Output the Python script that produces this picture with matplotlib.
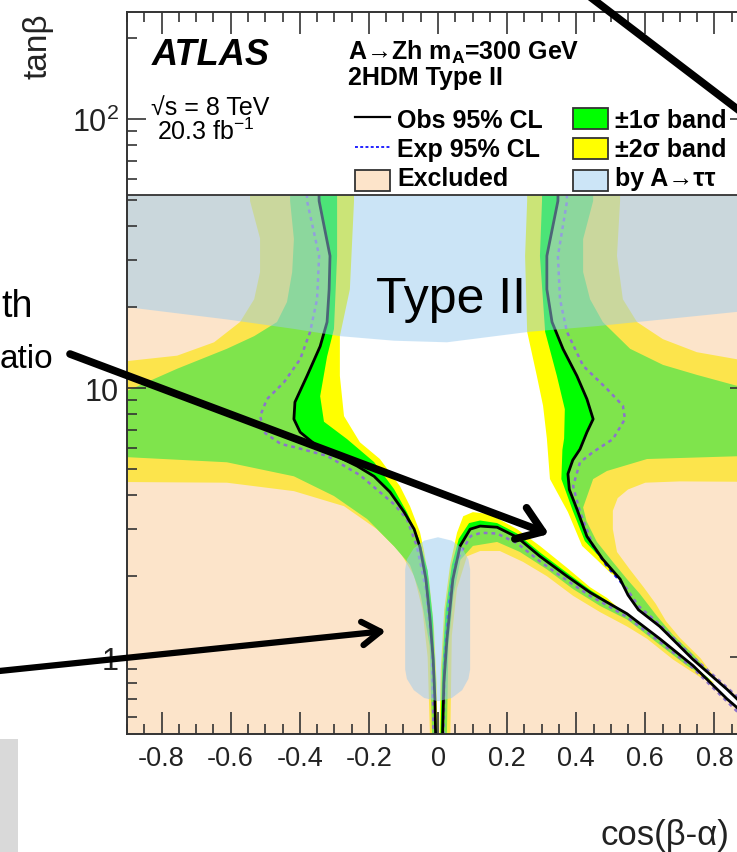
import numpy as np
import matplotlib
matplotlib.use("Agg")
import matplotlib.pyplot as plt
from matplotlib.path import Path
from matplotlib.patches import PathPatch, Rectangle, FancyArrowPatch
from matplotlib.lines import Line2D
from matplotlib.ticker import FixedLocator, FixedFormatter, MultipleLocator, LogLocator, NullFormatter

plt.rcParams["font.family"] = ["Liberation Sans", "DejaVu Sans"]
plt.rcParams["mathtext.fontset"] = "custom"
plt.rcParams["mathtext.rm"] = "Liberation Sans"
plt.rcParams["mathtext.it"] = "Liberation Sans:italic"
plt.rcParams["mathtext.bf"] = "Liberation Sans:bold"
plt.rcParams["axes.unicode_minus"] = False

# ----------------------------------------------------
# Contours (cos(beta-alpha), tan(beta))
# ----------------------------------------------------

# observed 95% CL, left branch (top -> cos=0)
obs_left = [(-0.345, 60), (-0.344, 49.6), (-0.3125, 31.0), (-0.315, 23.3), (-0.321, 17.6),
            (-0.341, 14.3), (-0.379, 11.1), (-0.414, 8.87), (-0.417, 7.67), (-0.399, 6.86),
            (-0.350, 6.09), (-0.298, 5.63), (-0.234, 5.13), (-0.185, 4.70), (-0.139, 4.11),
            (-0.098, 3.46), (-0.069, 2.99), (-0.052, 2.56), (-0.035, 1.95), (-0.023, 1.38),
            (-0.014, 0.98), (-0.009, 0.70), (-0.006, 0.45)]

# observed, right branch over the hump and along the lower edge of the sliver
obs_lower = [(0.012, 0.45), (0.017, 0.8), (0.026, 1.17), (0.043, 1.95), (0.064, 2.59),
             (0.093, 2.99), (0.122, 3.07), (0.171, 3.04), (0.229, 2.79), (0.295, 2.37),
             (0.373, 2.0), (0.44, 1.74), (0.489, 1.60), (0.547, 1.45), (0.642, 1.17),
             (0.738, 0.93), (0.836, 0.70), (0.865, 0.65), (0.9, 0.58), (0.95, 0.505)]

# observed, upper edge of the sliver and the right branch up to the top
obs_upper = [(0.95, 0.56), (0.9, 0.635), (0.865, 0.70), (0.836, 0.76), (0.738, 0.98),
             (0.642, 1.30), (0.58, 1.50), (0.55, 1.70), (0.527, 1.95), (0.477, 2.31),
             (0.431, 2.81), (0.402, 3.55), (0.38, 4.2), (0.376, 4.8), (0.39, 5.4),
             (0.411, 5.93), (0.431, 6.86), (0.449, 7.67), (0.431, 9.1), (0.402, 11.1),
             (0.362, 13.96), (0.330, 17.6), (0.315, 23.3), (0.315, 31.0), (0.347, 49.6),
             (0.348, 60)]

# expected 95% CL
exp_left = [(-0.379, 60), (-0.379, 49.6), (-0.344, 31.0), (-0.350, 21.4), (-0.370, 16.2),
            (-0.399, 12.8), (-0.446, 10.5), (-0.495, 9.1), (-0.515, 7.86), (-0.50, 6.8),
            (-0.455, 6.2), (-0.408, 6.0), (-0.321, 5.6), (-0.226, 4.75), (-0.127, 3.7),
            (-0.090, 3.26), (-0.061, 2.58), (-0.035, 1.79), (-0.017, 1.07), (-0.012, 0.45)]

exp_lower = [(0.015, 0.45), (0.02, 1.0), (0.032, 1.6), (0.05, 2.2), (0.07, 2.5), (0.095, 2.82),
             (0.125, 2.9), (0.171, 2.88), (0.229, 2.65), (0.295, 2.27), (0.373, 1.93),
             (0.44, 1.69), (0.489, 1.56), (0.547, 1.41), (0.642, 1.14), (0.738, 0.91),
             (0.836, 0.685), (0.95, 0.49)]

exp_upper = [(0.95, 0.58), (0.865, 0.715), (0.738, 1.0), (0.642, 1.32), (0.58, 1.55),
             (0.547, 1.79), (0.489, 2.18), (0.449, 2.59), (0.411, 3.46), (0.391, 4.32),
             (0.411, 5.3), (0.449, 5.79), (0.506, 6.46), (0.541, 7.67), (0.535, 8.6),
             (0.489, 9.93), (0.420, 12.1), (0.373, 16.2), (0.353, 21.4), (0.347, 31.0),
             (0.373, 49.2), (0.373, 60)]

# +-2 sigma band outlines
band2_left = [(-0.544, 60), (-0.544, 49.6), (-0.515, 36), (-0.515, 27), (-0.532, 21.4),
              (-0.573, 17.6), (-0.648, 14.8), (-0.755, 13.2), (-0.9, 12.6), (-0.95, 12.4),
              (-0.95, 4.48), (-0.611, 4.45), (-0.417, 4.14), (-0.272, 3.64), (-0.177, 2.99),
              (-0.110, 2.46), (-0.069, 2.0), (-0.045, 1.5), (-0.03, 1.0), (-0.022, 0.45),
              (-0.002, 0.45), (-0.004, 0.8), (-0.012, 1.3), (-0.025, 1.9), (-0.041, 2.5),
              (-0.052, 2.91), (-0.081, 3.64), (-0.110, 4.32), (-0.168, 5.45), (-0.226, 6.29),
              (-0.272, 7.87), (-0.284, 11.1), (-0.284, 15.6), (-0.255, 23.3), (-0.243, 49.6),
              (-0.243, 60)]

band2_right_upper = [(0.258, 60), (0.258, 49.6), (0.252, 31), (0.258, 16.2), (0.286, 11.1),
                     (0.304, 8.6), (0.315, 6.5), (0.324, 4.59), (0.376, 3.46), (0.417, 2.59),
                     (0.46, 2.3), (0.50, 2.05), (0.527, 1.95), (0.55, 1.70), (0.58, 1.50),
                     (0.642, 1.30), (0.738, 0.98), (0.80, 0.845), (0.76, 0.99), (0.70, 1.18),
                     (0.66, 1.36), (0.63, 1.58), (0.595, 1.82), (0.555, 2.12), (0.518, 2.46),
                     (0.506, 2.99), (0.506, 3.5), (0.52, 3.9), (0.55, 4.2), (0.60, 4.45),
                     (0.70, 4.5), (0.95, 4.48), (0.95, 12.7), (0.865, 12.8), (0.749, 13.6),
                     (0.651, 15.2), (0.576, 17.6), (0.535, 21.4), (0.518, 31), (0.527, 49.6),
                     (0.527, 60)]

band2_right_lower = [(0.003, 0.45), (0.008, 0.9), (0.018, 1.5), (0.035, 2.2), (0.055, 2.9),
                     (0.073, 3.34), (0.101, 3.46), (0.150, 3.40), (0.229, 2.99), (0.295, 2.59),
                     (0.373, 2.15), (0.44, 1.82), (0.489, 1.66), (0.52, 1.53), (0.547, 1.45),
                     (0.642, 1.17), (0.738, 0.93), (0.80, 0.80), (0.76, 0.84), (0.68, 0.98),
                     (0.605, 1.17), (0.547, 1.30), (0.469, 1.47), (0.391, 1.69), (0.315, 2.0),
                     (0.246, 2.26), (0.179, 2.48), (0.122, 2.48), (0.084, 2.37), (0.055, 1.8),
                     (0.04, 1.2), (0.035, 0.45)]

# +-1 sigma band outlines
band1_left = [(-0.428, 60), (-0.428, 49.6), (-0.417, 35.8), (-0.422, 27), (-0.437, 20.9),
              (-0.466, 17.6), (-0.532, 15.6), (-0.611, 14.0), (-0.755, 11.8), (-0.9, 9.76),
              (-0.95, 9.6), (-0.95, 5.58), (-0.611, 5.3), (-0.417, 4.7), (-0.301, 3.97),
              (-0.205, 3.26), (-0.127, 2.58), (-0.081, 2.2), (-0.05, 1.7), (-0.024, 1.1),
              (-0.016, 0.45), (-0.004, 0.45), (-0.007, 0.8), (-0.015, 1.4), (-0.03, 2.1),
              (-0.055, 2.75), (-0.090, 3.46), (-0.127, 4.21), (-0.185, 5.31), (-0.263, 6.46),
              (-0.330, 7.5), (-0.341, 9.33), (-0.321, 13.1), (-0.301, 16.6), (-0.292, 31),
              (-0.292, 60)]

band1_right_upper = [(0.301, 60), (0.301, 49.6), (0.295, 31), (0.310, 16.2), (0.344, 11.1),
                     (0.367, 8.35), (0.365, 6.5), (0.36, 5.9), (0.357, 4.59), (0.39, 3.5),
                     (0.425, 2.7), (0.465, 2.38), (0.477, 2.31), (0.527, 1.95), (0.55, 1.70),
                     (0.58, 1.50), (0.642, 1.30), (0.738, 0.98), (0.79, 0.865), (0.74, 1.02),
                     (0.68, 1.21), (0.634, 1.42), (0.584, 1.72), (0.547, 1.95), (0.506, 2.26),
                     (0.46, 2.68), (0.43, 3.2), (0.42, 3.6), (0.449, 4.59), (0.489, 4.92),
                     (0.605, 5.45), (0.865, 5.58), (0.95, 5.58), (0.95, 9.7), (0.865, 10.2),
                     (0.749, 11.2), (0.651, 12.2), (0.556, 14.0), (0.477, 17.6), (0.440, 21.4),
                     (0.420, 27), (0.420, 35.8), (0.449, 49.6), (0.449, 60)]

band1_right_lower = [(0.006, 0.45), (0.012, 0.9), (0.022, 1.5), (0.04, 2.2), (0.06, 2.75),
                     (0.09, 3.15), (0.122, 3.22), (0.171, 3.15), (0.229, 2.88), (0.295, 2.45),
                     (0.373, 2.06), (0.44, 1.78), (0.489, 1.62), (0.547, 1.45), (0.642, 1.17),
                     (0.738, 0.93), (0.79, 0.82), (0.72, 0.93), (0.642, 1.11), (0.547, 1.38),
                     (0.469, 1.55), (0.391, 1.79), (0.315, 2.12), (0.237, 2.46), (0.171, 2.68),
                     (0.101, 2.59), (0.065, 2.3), (0.045, 1.7), (0.03, 1.1), (0.025, 0.45)]

# regions excluded by A->tautau
att_upper = [(-0.95, 60), (0.95, 60), (0.95, 19.6), (0.865, 19.2), (0.651, 18.0), (0.46, 17.0),
             (0.266, 16.2), (0.026, 14.8), (-0.127, 15.0), (-0.284, 15.6), (-0.417, 16.6),
             (-0.611, 18.0), (-0.9, 20.0), (-0.95, 20.3)]

att_lower = [(0.0, 2.79), (0.04, 2.71), (0.07, 2.54), (0.088, 2.31), (0.093, 2.12),
             (0.093, 0.90), (0.088, 0.83), (0.07, 0.754), (0.04, 0.705), (0.0, 0.686),
             (-0.04, 0.705), (-0.07, 0.754), (-0.09, 0.83), (-0.095, 0.90), (-0.095, 2.12),
             (-0.09, 2.31), (-0.07, 2.54), (-0.04, 2.71)]

xtick_vals = [-0.8, -0.6, -0.4, -0.2, 0.0, 0.2, 0.4, 0.6, 0.8]
xtick_labels = ["-0.8", "-0.6", "-0.4", "-0.2", "0", "0.2", "0.4", "0.6", "0.8"]
ytick_vals = [1, 10, 100]
ytick_labels = ["1", "10", r"$10^{2}$"]

TB_BOX = 52  # lower edge of the legend box

YELLOW = "#ffff00"
GREEN = "#00ff00"
EXCL = (251 / 255, 202 / 255, 151 / 255)
ATT = (153 / 255, 203 / 255, 239 / 255)


def xy(pts):
    return [p[0] for p in pts], [p[1] for p in pts]


def signed_area(pts):
    x = np.array([p[0] for p in pts])
    y = np.log10([p[1] for p in pts])
    return 0.5 * np.sum(x * np.roll(y, -1) - np.roll(x, -1) * y)


# ----------------------------------------------------
# Figure
# ----------------------------------------------------

W, H = 737, 853
fig = plt.figure(figsize=(W / 100, H / 100), dpi=100)
ax = fig.add_axes([127 / W, 1 - 735 / H, 622 / W, 722 / H])
ax.set_yscale("log")
ax.set_xlim(-0.9, 0.9)
ax.set_ylim(0.518, 250)


def fpx(x, y):
    return x / W, 1 - y / H


# bands
for poly in [band2_left, band2_right_upper, band2_right_lower]:
    ax.fill(*xy(poly), color=YELLOW, lw=0, zorder=1)
for poly in [band1_left, band1_right_upper, band1_right_lower]:
    ax.fill(*xy(poly), color=GREEN, lw=0, zorder=1.2)

# expected limit
for line in [exp_left, exp_lower, exp_upper]:
    ax.plot(*xy(line), color="#1a1aff", lw=1.8, ls=(0, (1.5, 1.6)), zorder=2)

# observed excluded region: everything outside the observed contour
outer = [(-0.95, 0.45), (0.95, 0.45), (0.95, 60), (-0.95, 60)]
hole = obs_left + obs_lower + obs_upper
if np.sign(signed_area(hole)) == np.sign(signed_area(outer)):
    hole = hole[::-1]
verts = outer + [outer[0]] + hole + [hole[0]]
codes = ([Path.MOVETO] + [Path.LINETO] * (len(outer) - 1) + [Path.CLOSEPOLY]
         + [Path.MOVETO] + [Path.LINETO] * (len(hole) - 1) + [Path.CLOSEPOLY])
ax.add_patch(PathPatch(Path(verts, codes), facecolor=EXCL, alpha=0.51, lw=0, zorder=3))

# observed limit
for line in [obs_left, obs_lower, obs_upper]:
    ax.plot(*xy(line), color="black", lw=2.0, zorder=4, solid_joinstyle="round")

# A->tautau
for poly in [att_upper, att_lower]:
    ax.fill(*xy(poly), color=ATT, alpha=0.5, lw=0, zorder=5)

ax.text(0.038, 19.2, "Type II", ha="center", va="baseline", fontsize=36, zorder=6)

# legend box
ax.axhspan(TB_BOX, 400, facecolor="white", lw=0, zorder=7)
ax.axhline(TB_BOX, color="#333333", lw=1.3, zorder=7.5)

# ----------------------------------------------------
# Axes styling
# ----------------------------------------------------

ax.xaxis.set_major_locator(FixedLocator(xtick_vals))
ax.xaxis.set_major_formatter(FixedFormatter(xtick_labels))
ax.xaxis.set_minor_locator(MultipleLocator(0.05))
ax.yaxis.set_major_locator(FixedLocator(ytick_vals))
ax.yaxis.set_major_formatter(FixedFormatter(ytick_labels))
ax.yaxis.set_minor_locator(LogLocator(base=10, subs=range(2, 10), numticks=20))
ax.yaxis.set_minor_formatter(NullFormatter())

ax.tick_params(axis="x", which="major", direction="in", length=15.5, width=1.2,
               top=True, bottom=True, labelsize=19.5, pad=8, color="#333333", labelcolor="#222222")
ax.tick_params(axis="x", which="minor", direction="in", length=7.5, width=1.2,
               top=True, bottom=True, color="#333333")
ax.tick_params(axis="y", which="major", direction="in", length=13.5, width=1.2,
               left=True, right=True, labelsize=22, pad=6, color="#333333", labelcolor="#222222")
ax.tick_params(axis="y", which="minor", direction="in", length=7, width=1.2,
               left=True, right=True, color="#333333")

for s in ax.spines.values():
    s.set_linewidth(1.4)
    s.set_color("#333333")
    s.set_zorder(10)
ax.xaxis.set_zorder(10)
ax.yaxis.set_zorder(10)

fig.text(*fpx(38, 46), "tan\u03b2", rotation=90, ha="center", va="center", fontsize=24, color="#222222")
fig.text(*fpx(600, 845), "cos(\u03b2-\u03b1)", ha="left", va="baseline", fontsize=25, color="#222222")

# ----------------------------------------------------
# Legend / labels
# ----------------------------------------------------

fig.text(*fpx(152, 65), "ATLAS", fontsize=26, fontweight="bold", fontstyle="italic", va="baseline")
fig.text(*fpx(151, 115), "\u221as = 8 TeV", fontsize=18, va="baseline")
fig.text(*fpx(157, 140), r"20.3 fb$^{-1}$", fontsize=18, va="baseline")
fig.text(*fpx(348, 60), "A\u2192Zh m$_{\\mathbf{A}}$=300 GeV", fontsize=18,
         fontweight="bold", va="baseline")
fig.text(*fpx(348, 85), "2HDM Type II", fontsize=18, fontweight="bold", va="baseline")

fig.add_artist(Line2D([355 / W, 390 / W], [1 - 118 / H] * 2, transform=fig.transFigure,
                      color="black", lw=1.6, zorder=10))
fig.add_artist(Line2D([355 / W, 390 / W], [1 - 148 / H] * 2, transform=fig.transFigure,
                      color="#2222ff", lw=1.4, ls=(0, (1.5, 1.2)), zorder=10))

legend_boxes = [((355, 192), "#fde4ca"), ((573, 130), GREEN), ((573, 160), YELLOW), ((573, 192), "#cce5f7")]
for (bx, by), col in legend_boxes:
    fig.add_artist(Rectangle(fpx(bx, by), 35 / W, 21 / H, transform=fig.transFigure,
                             facecolor=col, edgecolor="#333333", lw=1.3, zorder=10))

legend_text = [(397, 128, "Obs 95% CL"), (397, 157, "Exp 95% CL"), (397, 186, "Excluded"),
               (615, 128, "\u00b11\u03c3 band"), (615, 157, "\u00b12\u03c3 band"),
               (615, 186, "by A\u2192\u03c4\u03c4")]
for tx, ty, s in legend_text:
    fig.text(*fpx(tx, ty), s, fontsize=18, fontweight="bold", va="baseline")

# ----------------------------------------------------
# Slide overlay: text fragments, arrows, panel edge
# ----------------------------------------------------

fig.text(*fpx(1, 317), "th", fontsize=27, ha="left", va="baseline")
fig.text(*fpx(0, 368), "atio", fontsize=24, ha="left", va="baseline")

fig.add_artist(Rectangle((0, 0), 18 / W, (H - 740) / H, transform=fig.transFigure,
                         facecolor="#d9d9d9", lw=0, zorder=1))

arrows = [((70, 355), (549, 535), "->,head_length=0.85,head_width=0.6", 5.5),
          ((-20, 674), (386, 632), "->,head_length=0.65,head_width=0.42", 4.5),
          ((585, -6), (770, 135), "-", 5.5)]
for start, end, style, lw in arrows:
    fig.add_artist(FancyArrowPatch(fpx(*start), fpx(*end), transform=fig.transFigure,
                                   arrowstyle=style, mutation_scale=20, lw=lw, color="black",
                                   shrinkA=0, shrinkB=0, capstyle="round", joinstyle="round",
                                   zorder=20))

fig.savefig("out.png", dpi=100)
